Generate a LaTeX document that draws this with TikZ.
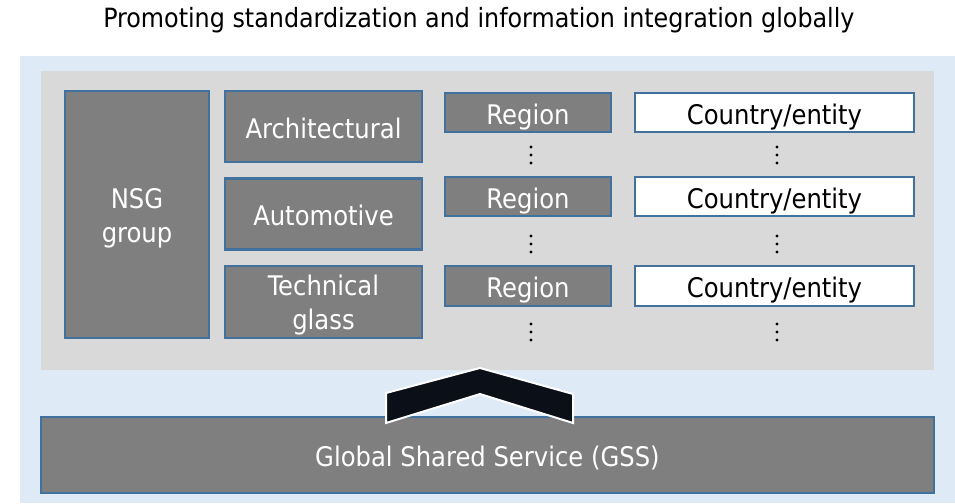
\documentclass[tikz,border=0pt]{standalone}
\usepackage{fontspec}
\setmainfont{DejaVu Sans Condensed}
\definecolor{bgblue}{HTML}{DEEBF7}
\definecolor{panelgray}{HTML}{D9D9D9}
\definecolor{boxgray}{HTML}{7F7F7F}
\definecolor{edgeblue}{HTML}{41719C}
\definecolor{chevron}{HTML}{0A0F18}
\newcommand{\twolines}[2]{\raisebox{-4pt}[\height][\depth]{\begin{tabular}{@{}c@{}}#1\\#2\end{tabular}}}
\begin{document}
\begin{tikzpicture}[x=1pt,y=-1pt,
  lbl/.style={font=\fontsize{27}{34}\selectfont},
  boxbase/.style={lbl, inner sep=0pt, line width=2.2pt, draw=edgeblue},
  boxtext/.style={boxbase, text height=23pt, text depth=0pt},
  gbox/.style={boxtext, fill=boxgray, text=white},
  wbox/.style={boxtext, fill=white, text=black},
  gbox2/.style={boxbase, fill=boxgray, text=white},
  dotc/.style={fill=black}
]
\useasboundingbox (0,0) rectangle (955,503);
\fill[white] (0,0) rectangle (955,503);
\fill[bgblue] (20,56) rectangle (955,503);
\fill[panelgray] (41,71) rectangle (934,370);

\node[lbl, font=\fontsize{26.5}{32}\selectfont] (title) at (479,20) {Promoting standardization and information integration globally};

\node[gbox2, minimum width=144pt, minimum height=247pt] (nsg) at (137,214.5) {\twolines{NSG}{group}};
\node[gbox, minimum width=197pt, minimum height=71pt] (arch) at (323.5,126.5) {Architectural};
\node[gbox, minimum width=197pt, minimum height=71pt] (auto) at (323.5,214) {Automotive};
\node[gbox2, minimum width=197pt, minimum height=72pt] (tech) at (323.5,302) {\twolines{Technical}{glass}};

\node[gbox, minimum width=166pt, minimum height=39pt] (reg1) at (528,112.5) {Region};
\node[gbox, minimum width=166pt, minimum height=39pt] (reg2) at (528,196.5) {Region};
\node[gbox, minimum width=166pt, minimum height=40pt] (reg3) at (528,286) {Region};

\node[wbox, minimum width=279pt, minimum height=39pt] (cty1) at (774.5,112.5) {Country/entity};
\node[wbox, minimum width=279pt, minimum height=39pt] (cty2) at (774.5,196.5) {Country/entity};
\node[wbox, minimum width=279pt, minimum height=40pt] (cty3) at (774.5,286) {Country/entity};

\foreach \yy in {155,244,332}{
  \foreach \xx in {531,777}{
    \fill[dotc] (\xx,\yy-8) circle (1.6);
    \fill[dotc] (\xx,\yy) circle (1.6);
    \fill[dotc] (\xx,\yy+8) circle (1.6);
  }
}

\node[gbox, minimum width=893pt, minimum height=76pt] (gss) at (487.5,455) {Global Shared Service (GSS)};

\draw[fill=chevron, draw=white, line width=2pt, line join=miter]
  (386,423) -- (386,393) -- (480,368) -- (573,394) -- (573,423) -- (480,394) -- cycle;
\end{tikzpicture}
\end{document}
